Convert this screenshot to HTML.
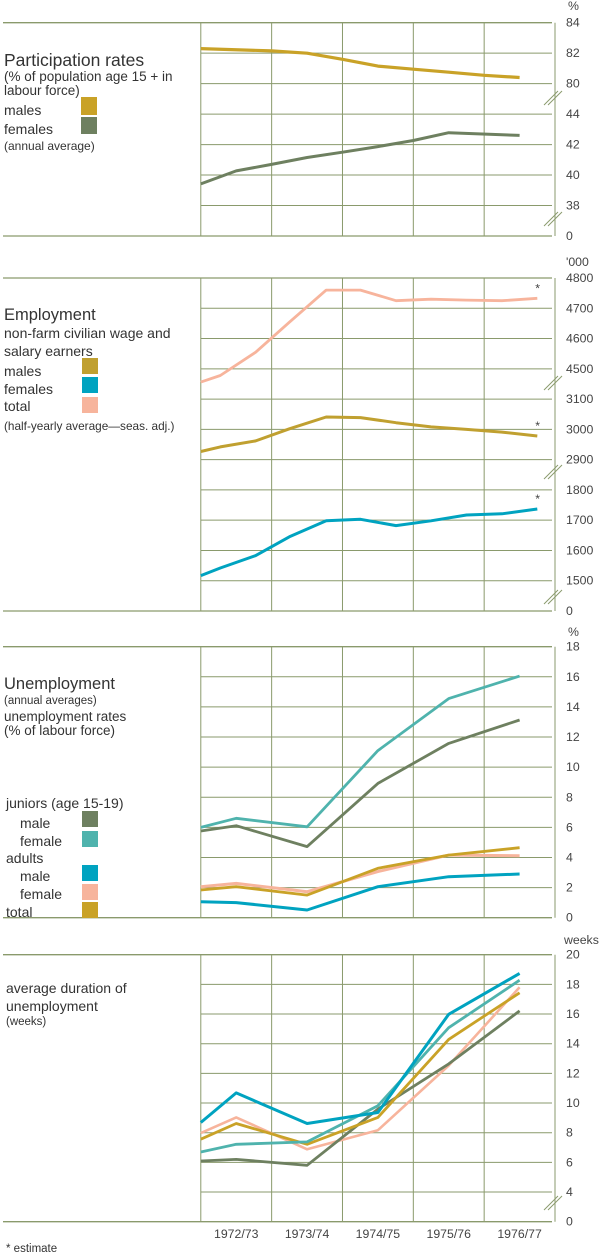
<!DOCTYPE html>
<html><head><meta charset="utf-8"><style>
html,body{margin:0;padding:0;background:#fff;}
svg{display:block;font-family:"Liberation Sans",sans-serif;}
.lbl{fill:#444;font-size:12.3px;}
.tt{fill:#333;}
</style></head><body>
<svg id="chart" width="600" height="1255" viewBox="0 0 600 1255">
<g id="grids"></g>
<g id="legend">
 <text class="tt" x="4" y="66" font-size="17.5">Participation rates</text>
 <text class="tt" x="4" y="81" font-size="13.5">(% of population age 15 +  in</text>
 <text class="tt" x="4" y="95" font-size="13.5">labour force)</text>
 <text class="tt" x="4" y="115" font-size="14">males</text>
 <rect x="81" y="97" width="16" height="18" fill="#c9a227"/>
 <text class="tt" x="4" y="134" font-size="14">females</text>
 <rect x="81" y="117" width="16" height="17" fill="#6e8060"/>
 <text class="tt" x="4" y="150" font-size="12">(annual average)</text>

 <text class="tt" x="4" y="320" font-size="16.5">Employment</text>
 <text class="tt" x="4" y="338" font-size="14">non-farm civilian wage and</text>
 <text class="tt" x="4" y="356" font-size="14">salary earners</text>
 <text class="tt" x="4" y="376" font-size="14">males</text>
 <rect x="82" y="358" width="16" height="16" fill="#c0a030"/>
 <text class="tt" x="4" y="394" font-size="14">females</text>
 <rect x="82" y="377" width="16" height="16" fill="#00a3c0"/>
 <text class="tt" x="4" y="411" font-size="14">total</text>
 <rect x="82" y="397" width="16" height="16" fill="#f7b49c"/>
 <text class="tt" x="4" y="430" font-size="11.8">(half-yearly average—seas. adj.)</text>

 <text class="tt" x="4" y="689" font-size="16.5">Unemployment</text>
 <text class="tt" x="4" y="704" font-size="11.5">(annual averages)</text>
 <text class="tt" x="4" y="721" font-size="13.5">unemployment rates</text>
 <text class="tt" x="4" y="735" font-size="13.5">(% of labour force)</text>
 <text class="tt" x="6" y="808" font-size="14">juniors (age 15-19)</text>
 <text class="tt" x="20" y="828" font-size="14">male</text>
 <rect x="82" y="811" width="16" height="16" fill="#6e8060"/>
 <text class="tt" x="20" y="846" font-size="14">female</text>
 <rect x="82" y="831" width="16" height="16" fill="#4fb3ad"/>
 <text class="tt" x="6" y="863" font-size="14">adults</text>
 <text class="tt" x="20" y="881" font-size="14">male</text>
 <rect x="82" y="865" width="16" height="16" fill="#00a3c0"/>
 <text class="tt" x="20" y="899" font-size="14">female</text>
 <rect x="82" y="884" width="16" height="16" fill="#f7b49c"/>
 <text class="tt" x="6" y="917" font-size="14">total</text>
 <rect x="82" y="902" width="16" height="16" fill="#c9a227"/>

 <text class="tt" x="6" y="993" font-size="14">average duration of</text>
 <text class="tt" x="6" y="1011" font-size="14">unemployment</text>
 <text class="tt" x="6" y="1025" font-size="11.5">(weeks)</text>
 <text class="tt" x="6" y="1252" font-size="11.5">* estimate</text>
</g>
<g id="series"></g>
</svg>
<script>
// ---- data ----
const years = ["1972/73","1973/74","1974/75","1975/76","1976/77"];
// participation (half-column positions)
const partPos = [0,2,3,4,5,6,7,8,9];
const partMales = [82.3,82.15,82.0,81.6,81.15,80.95,80.75,80.55,80.4];
const partFemPos = [0,1,2,3,4,5,6,7,9];
const partFemales = [39.42,40.27,40.7,41.15,41.5,41.87,42.27,42.78,42.6];
// employment half-yearly
const empPos = [0,0.55,1.55,2.5,3.54,4.51,5.51,6.5,7.5,8.5,9.5];
const empTotal = [4456,4478,4555,4654,4760,4760,4725,4730,4727,4725,4733];
const empMales = [2927,2942,2962,3002,3041,3039,3022,3008,3000,2991,2978];
const empFemales = [1517,1542,1583,1645,1698,1703,1682,1698,1717,1721,1737];
// unemployment rates (annual)
const unPos = [0,1,3,5,7,9];
const unJuniorMale = [5.76,6.11,4.72,8.92,11.58,13.13];
const unJuniorFemale = [6.0,6.6,6.04,11.1,14.55,16.05];
const unAdultMale = [1.06,1.0,0.51,2.06,2.72,2.9];
const unAdultFemale = [2.06,2.28,1.73,3.06,4.16,4.12];
const unTotal = [1.84,2.06,1.5,3.28,4.16,4.65];
// duration weeks
const durJuniorMale = [6.09,6.2,5.8,9.59,12.64,16.21];
const durJuniorFemale = [6.7,7.22,7.38,9.82,15.08,18.28];
const durAdultMale = [8.69,10.68,8.62,9.36,15.98,18.74];
const durAdultFemale = [7.97,9.03,6.88,8.17,12.53,17.8];
const durTotal = [7.56,8.62,7.22,9.03,14.29,17.43];
// tick labels
const ticksP = ["84","82","80","44","42","40","38","0"];
const ticksE = ["4800","4700","4600","4500","3100","3000","2900","1800","1700","1600","1500","0"];
const ticksU = ["18","16","14","12","10","8","6","4","2","0"];
const ticksD = ["20","18","16","14","12","10","8","6","4","0"];

const NS="http://www.w3.org/2000/svg";
const G=document.getElementById('grids'), S=document.getElementById('series');
const X0=200.8, HC=35.42, XR=552;
const GRID="#8a9a6c";
function x(i){return X0+i*HC;}
function mk(tag,attrs,parent){const e=document.createElementNS(NS,tag);for(const k in attrs)e.setAttribute(k,attrs[k]);parent.appendChild(e);return e;}

function panel(name,top,bottom,rows,labels,unit,breaks){
  const g=mk('g',{},G);
  
  
  for(let r=0;r<rows.length;r++){
    const y=rows[r];
    const full=(r===0||r===rows.length-1);
    const ln=mk('line',{x1:full?3:X0,x2:XR,y1:y,y2:y,stroke:GRID,'stroke-width':full?1.3:1},g);
    
    
    const t=mk('text',{x:566,y:y+4,'class':'lbl'},g);
    t.textContent=labels[r];
    
    
  }
  for(let c=0;c<=5;c++){
    const v=mk('line',{x1:x(c*2),x2:x(c*2),y1:top,y2:bottom,stroke:GRID,'stroke-width':1},g);
    
    
  }
  const u=mk('text',{x:unit[1],y:unit[2],'class':'lbl','font-size':11},g);
  u.textContent=unit[0];
  
  
  breaks.forEach(by=>{
    for(const d of [-2,2]){
      const b=mk('line',{x1:546+d,y1:by+7,x2:560+d,y2:by-7,stroke:GRID,'stroke-width':1},g);
      
      
    }
  });
}
function rowsFrom(a,b,n){const r=[];for(let k=0;k<n;k++)r.push(a+(b-a)*k/(n-1));return r;}

// panel geometry
const p1=rowsFrom(22.7,236,8); panel('participation',22.7,236,p1,ticksP,['%',568,10],[98,219]);
const p2=rowsFrom(278,611,12); panel('employment',278,611,p2,ticksE,["'000",566,266],[383,472,597]);
const p3=rowsFrom(646.7,917.7,10); panel('unemployment',646.7,917.7,p3,ticksU,['%',568,636],[]);
const p4=rowsFrom(954.7,1221.7,10); panel('duration',954.7,1221.7,p4,ticksD,['weeks',564,944],[1203]);

// axis functions (rows listed top-to-bottom, so step = next - previous > 0)
const s1=p1[2]-p1[1], s2=p2[2]-p2[1], s3=p3[9]-p3[8];
function yP(v){return v>=60 ? p1[1]-(v-82)*s1/2 : p1[5]-(v-40)*s1/2;}
function yE(v){
  if(v>=4000) return p2[3]-(v-4500)*s2/100;
  if(v>=2500) return p2[5]-(v-3000)*s2/100;
  return p2[8]-(v-1700)*s2/100;
}
function yU(v){return p3[9]-v*s3/2;}
function yD(v){return p4[8]-(v-4)*(p4[8]-p4[7])/2;}

function line(name,pos,vals,yf,color,w){
  const pts=pos.map((p,k)=>x(p).toFixed(1)+','+yf(vals[k]).toFixed(1)).join(' ');
  const pl=mk('polyline',{points:pts,fill:'none',stroke:color,'stroke-width':w||3,'stroke-linejoin':'round'},S);
  
  
}
line('participation-males-line',partPos,partMales,yP,'#c9a227',3.2);
line('participation-females-line',partFemPos,partFemales,yP,'#6e8060',3);
line('employment-total-line',empPos,empTotal,yE,'#f7b49c',2.8);
line('employment-males-line',empPos,empMales,yE,'#c0a030',3);
line('employment-females-line',empPos,empFemales,yE,'#00a3c0',3);
line('unemp-adult-female-line',unPos,unAdultFemale,yU,'#f7b49c',3);
line('unemp-total-line',unPos,unTotal,yU,'#c9a227',2.8);
line('unemp-adult-male-line',unPos,unAdultMale,yU,'#00a3c0',3);
line('unemp-junior-male-line',unPos,unJuniorMale,yU,'#6e8060',2.8);
line('unemp-junior-female-line',unPos,unJuniorFemale,yU,'#4fb3ad',2.8);
line('dur-adult-female-line',unPos,durAdultFemale,yD,'#f7b49c',2.6);
line('dur-junior-male-line',unPos,durJuniorMale,yD,'#6e8060',2.8);
line('dur-total-line',unPos,durTotal,yD,'#c9a227',2.8);
line('dur-junior-female-line',unPos,durJuniorFemale,yD,'#4fb3ad',2.8);
line('dur-adult-male-line',unPos,durAdultMale,yD,'#00a3c0',3);

// estimate asterisks
[empTotal,empMales,empFemales].forEach(arr=>{
  const t=mk('text',{x:x(9.5)-2,y:yE(arr[arr.length-1])-6,'class':'lbl','font-size':9},S);
  t.textContent='*';
  
  
});
// year labels
years.forEach((yr,k)=>{
  const t=mk('text',{x:x(1+2*k),y:1238,'class':'lbl','text-anchor':'middle','font-size':12.5},G);
  t.textContent=yr;
  
  
});
</script>
</body></html>
